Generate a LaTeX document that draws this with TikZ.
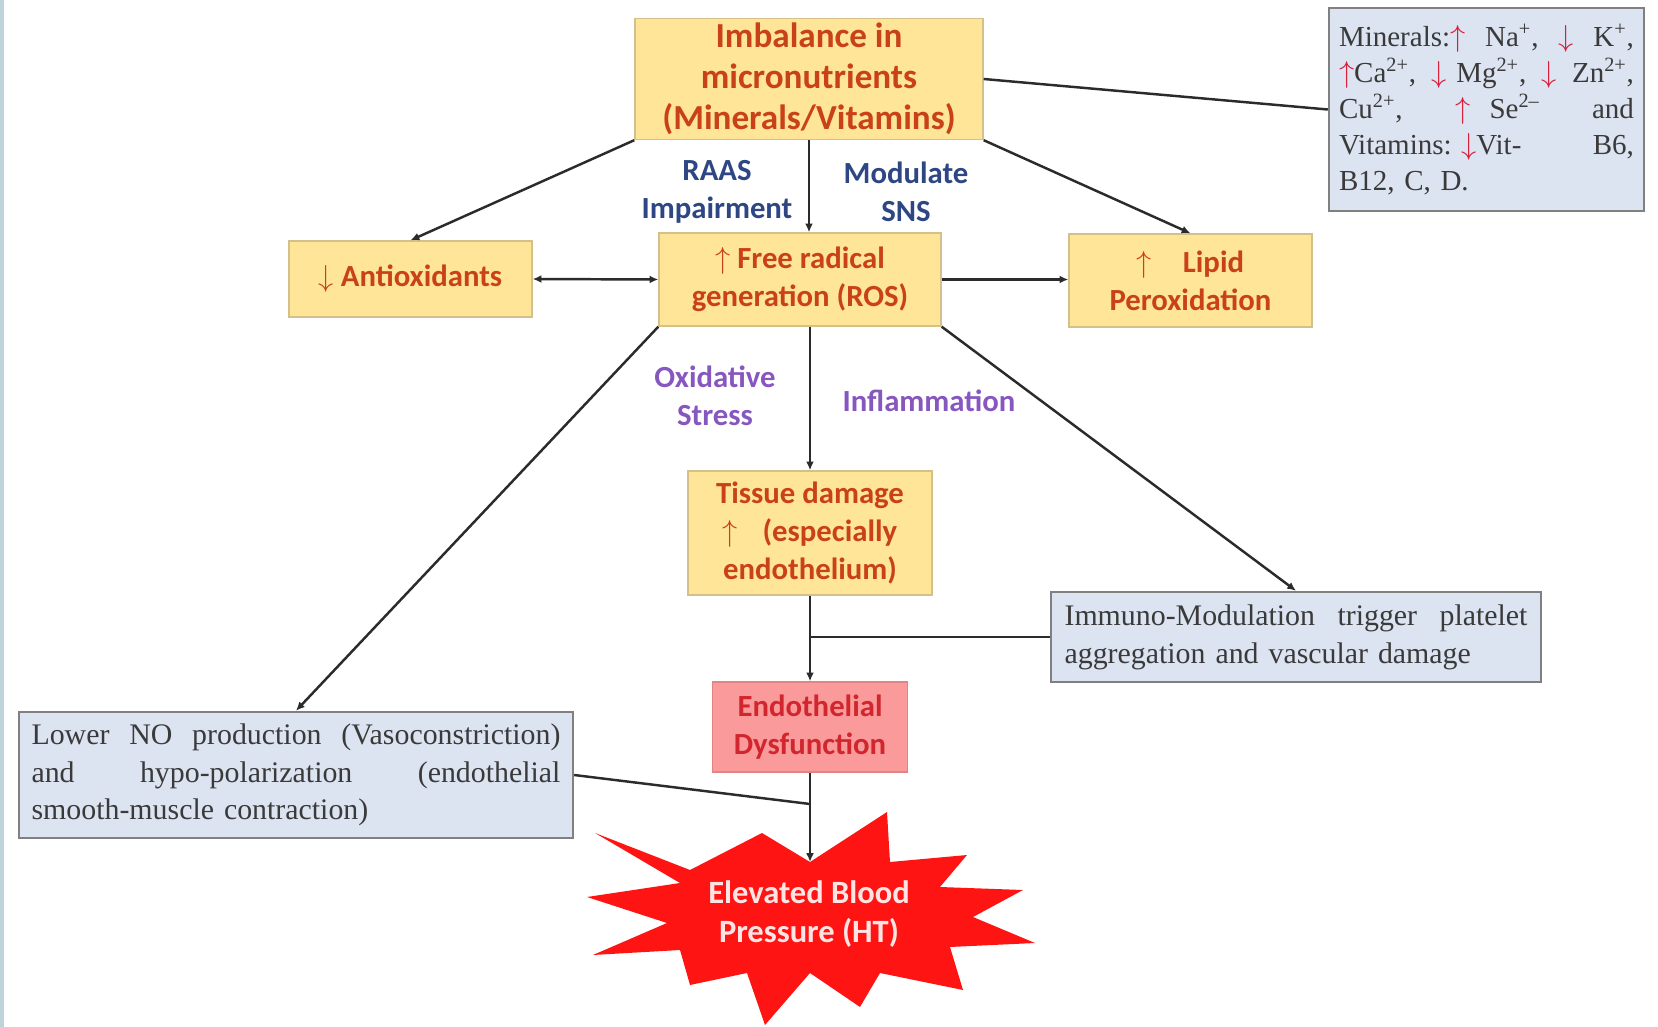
\documentclass[tikz,border=0pt]{standalone}
\usepackage{fontspec}
\setmainfont{Liberation Serif}
\newfontfamily\carlito{Carlito}
\usetikzlibrary{arrows.meta}

\definecolor{boxfill}{HTML}{FFE597}
\definecolor{boxline}{HTML}{D6C08A}
\definecolor{boxtext}{HTML}{C8411B}
\definecolor{bluefill}{HTML}{DCE3F1}
\definecolor{blueline}{HTML}{808080}
\definecolor{bluetext}{HTML}{3A3A3A}
\definecolor{pinkfill}{HTML}{FA9A9A}
\definecolor{pinkline}{HTML}{E08585}
\definecolor{pinktext}{HTML}{D1262E}
\definecolor{navytext}{HTML}{2E4784}
\definecolor{violettext}{HTML}{8757C0}
\definecolor{arrred}{HTML}{D8203C}
\definecolor{starred}{HTML}{FF1414}
\definecolor{startext}{HTML}{FFE4E4}
\definecolor{stripblue}{HTML}{BDD4DA}
\definecolor{linegray}{HTML}{2B2B2B}

\newcommand{\upar}{$\uparrow$}
\newcommand{\dnar}{$\downarrow$}
\newcommand{\upr}{\textcolor{arrred}{$\uparrow$}}
\newcommand{\dnr}{\textcolor{arrred}{$\downarrow$}}
% a justified line of given width
\newcommand{\jline}[2]{\leavevmode\hbox to #1{#2}}

\tikzset{
  cause/.style={draw=boxline, line width=0.8pt, fill=boxfill, text=boxtext,
    font=\carlito\bfseries\fontsize{17.5}{21.5}\selectfont, align=center, inner sep=2pt},
  note/.style={draw=blueline, line width=1.4pt, fill=bluefill, text=bluetext,
    font=\fontsize{17}{21.5}\selectfont, align=left, inner ysep=2pt},
  pathlabel/.style={font=\carlito\bfseries\fontsize{17.5}{21.5}\selectfont, align=center, inner sep=0pt},
  conn/.style={draw=linegray, line width=1.4pt}
}

\begin{document}
\begin{tikzpicture}[x=0.02cm, y=-0.02cm, >={Latex[length=5pt,width=4.5pt]}]
  \useasboundingbox (0,0) rectangle (1658,1027);
  \fill[white] (0,0) rectangle (1658,1027);
  \fill[stripblue] (0,0) rectangle (4,1027);

  % Boxes
  \node[cause, font=\carlito\bfseries\fontsize{20}{23.5}\selectfont,
    minimum width=6.96cm, minimum height=2.42cm] (imb) at (809,79)
    {Imbalance in\\micronutrients\\(Minerals/Vitamins)};
  \node[cause, minimum width=4.86cm, minimum height=1.52cm] (anti) at (410.5,279)
    {\dnar\ Antioxidants};
  \node[cause, minimum width=5.64cm, minimum height=1.86cm] (frad) at (800,279.5)
    {\upar\ Free radical\\generation (ROS)};
  \node[cause, minimum width=4.86cm, minimum height=1.86cm] (lip) at (1190.5,280.5)
    {\upar\quad Lipid\\Peroxidation};
  \node[cause, minimum width=4.88cm, minimum height=2.48cm] (tis) at (810,533)
    {Tissue damage\\\upar\hspace{0.8em}(especially\hspace{2.6em}\\endothelium)};
  \node[cause, draw=pinkline, fill=pinkfill, text=pinktext,
    minimum width=3.9cm, minimum height=1.8cm] (endo) at (810,727)
    {Endothelial\\Dysfunction};

  \node[note, font=\fontsize{16.5}{20.5}\selectfont, text width=5.9cm, inner xsep=0.2cm,
    minimum height=4.06cm] (mins) at (1486.5,109.5)
    {\jline{5.9cm}{Minerals:\upr\hfill Na\textsuperscript{+},\hfill \dnr\hfill K\textsuperscript{+},}\\
     \jline{5.9cm}{\upr Ca\textsuperscript{2+},\hfill \dnr\ Mg\textsuperscript{2+},\hfill \dnr\hfill Zn\textsuperscript{2+},}\\
     \jline{5.9cm}{Cu\textsuperscript{2+},\hfill \upr\ \ Se\textsuperscript{2--}\hfill and}\\
     \jline{5.9cm}{Vitamins:\ \dnr Vit-\hfill B6,}\\
     B12, C, D.};
  \node[note, text width=9.26cm, inner xsep=0.27cm, minimum height=1.8cm] (imm) at (1296,637)
    {\jline{9.26cm}{Immuno-Modulation\hfill trigger\hfill platelet}\\
     aggregation and vascular damage};
  \node[note, text width=10.58cm, inner xsep=0.25cm, minimum height=2.52cm] (lno) at (296,775)
    {\jline{10.58cm}{Lower\hfill NO\hfill production\hfill (Vasoconstriction)}\\
     \jline{10.58cm}{and\hfill hypo-polarization\hfill (endothelial}\\
     smooth-muscle contraction)};

  % Starburst
  \fill[starred] (595,833) -- (690,870) -- (762,833) -- (810,862) -- (887,812)
    -- (890,862) -- (967,855) -- (940,887) -- (1023,890) -- (973,917)
    -- (1035,943) -- (950,947) -- (963,990) -- (880,973) -- (860,1007)
    -- (810,973) -- (765,1025) -- (747,973) -- (690,985) -- (680,950)
    -- (593,955) -- (667,923) -- (587,897) -- (680,883) -- cycle;
  \node[pathlabel, text=startext, font=\carlito\bfseries\fontsize{18.5}{22}\selectfont]
    (hbp) at (809,914) {Elevated Blood\\Pressure (HT)};
  \coordinate (startop) at (810,862);
  \coordinate (lnojoin) at (810,804);

  % Path labels
  \node[pathlabel, text=navytext] (raas) at (717,192) {RAAS\\Impairment};
  \node[pathlabel, text=navytext] (sns) at (906,192) {Modulate\\SNS};
  \node[pathlabel, text=violettext] (oxs) at (715,396) {Oxidative\\Stress};
  \node[pathlabel, text=violettext] (infl) at (929,401) {Inflammation};

  % Connectors
  \draw[conn, ->] (imb.south west) -- (anti.north);
  \draw[conn, ->] (imb.south) -- (imb.south |- frad.north);
  \draw[conn, ->] (imb.south east) -- (lip.north);
  \draw[conn] (imb.east) -- (mins.west);
  \draw[conn, <->] (anti.east) -- (frad.west);
  \draw[conn, ->] (frad.east) -- (frad.east -| lip.west);
  \draw[conn, ->] (frad.south west) -- (lno.north);
  \draw[conn, ->] (tis.north |- frad.south) -- (tis.north);
  \draw[conn, ->] (frad.south east) -- (imm.north);
  \draw[conn, ->] (tis.south) -- (endo.north);
  \draw[conn] (imm.west) -- (imm.west -| endo.north);
  \draw[conn, ->] (endo.south) -- (startop);
  \draw[conn] (lno.east) -- (lnojoin);
\end{tikzpicture}
\end{document}
